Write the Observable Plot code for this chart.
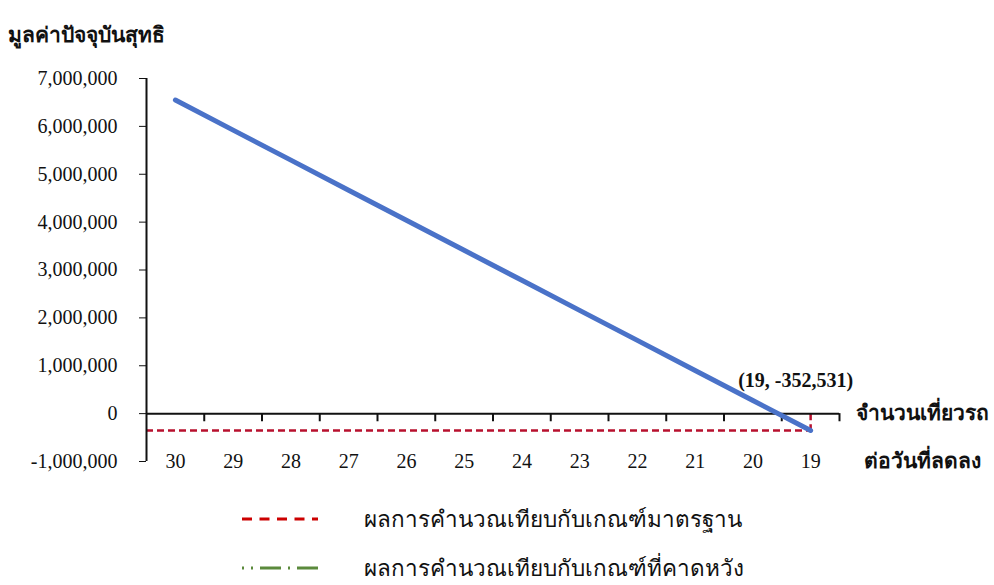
<!DOCTYPE html>
<html>
<head>
<meta charset="utf-8">
<script src="https://cdn.jsdelivr.net/npm/d3@7"></script>
<script src="https://cdn.jsdelivr.net/npm/@observablehq/plot@0.6"></script>
<style>
  body { margin: 0; background: #fff; font-family: "Liberation Serif", serif; }
  #title { height: 50px; box-sizing: border-box; padding: 24px 0 0 8px; font-size: 21px; line-height: 22px; font-weight: bold; color: #111; }
  #legend { padding-top: 13px; }
  .row { display: flex; align-items: center; height: 49px; }
  .row svg { margin-left: 242px; }
  .row span { margin-left: 46px; font-size: 22.5px; color: #111; }
</style>
</head>
<body>
<div id="title"></div>
<div id="chart"></div>
<div id="legend"></div>
<script>
// Data
const categories = [30, 29, 28, 27, 26, 25, 24, 23, 22, 21, 20, 19];
const npvValues = [6550000, 5922000, 5295000, 4667000, 4040000, 3412000, 2785000, 2157000, 1530000, 902000, 275000, -352531];
const yTicks = [-1000000, 0, 1000000, 2000000, 3000000, 4000000, 5000000, 6000000, 7000000];
const titleText = "มูลค่าปัจจุบันสุทธิ";
const xAxisLabel = ["จำนวนเที่ยวรถ", "ต่อวันที่ลดลง"];
const annotation = "(19, -352,531)";
const legendLabels = ["ผลการคำนวณเทียบกับเกณฑ์มาตรฐาน", "ผลการคำนวณเทียบกับเกณฑ์ที่คาดหวัง"];

document.getElementById("title").textContent = titleText;

const data = categories.map((c, i) => ({x: c, y: npvValues[i]}));
const last = data[data.length - 1];
const xLeft = d3.max(categories) + 0.5;
const xRight = d3.min(categories) - 0.5;
const boundaries = categories.map(c => c - 0.5);
const tickLen = 170000;
const labelRows = [0, d3.min(yTicks)];

const chart = Plot.plot({
  width: 994,
  height: 431,
  marginLeft: 146,
  marginRight: 155,
  marginTop: 28,
  marginBottom: 20,
  style: {fontFamily: "Liberation Serif", fontSize: "20px", color: "#111", background: "#fff"},
  x: {type: "linear", domain: [xLeft, xRight], axis: null},
  y: {domain: [d3.min(yTicks), d3.max(yTicks)], ticks: yTicks, tickSize: 7, tickPadding: 22,
      tickFormat: d => d.toLocaleString("en-US"), label: null},
  marks: [
    // red standard-criterion lines
    Plot.ruleY([last], {y: "y", x1: xLeft, x2: "x", stroke: "#b8102e", strokeWidth: 2.5, strokeDasharray: "7,4"}),
    Plot.ruleX([last], {x: "x", y1: 0, y2: "y", stroke: "#b8102e", strokeWidth: 2.5, strokeDasharray: "7,4"}),
    // axes
    Plot.ruleY([0], {stroke: "#111", strokeWidth: 2}),
    Plot.ruleX([xLeft], {stroke: "#111", strokeWidth: 2}),
    Plot.ruleX(boundaries, {x: d => d, y1: 0, y2: -tickLen, stroke: "#111", strokeWidth: 2}),
    Plot.text(categories, {x: d => d, frameAnchor: "bottom", lineAnchor: "middle", text: d => String(d), fontSize: 20}),
    // NPV line
    Plot.line(data, {x: "x", y: "y", stroke: "#4a72c8", strokeWidth: 5}),
    Plot.text([last], {x: "x", y: "y", text: () => annotation, dx: -15, dy: -50, fontWeight: "bold", fontSize: 20}),
    // x-axis label on the right (two rows)
    Plot.text(xAxisLabel, {frameAnchor: "right", y: (d, i) => labelRows[i], dx: 83, lineAnchor: "middle",
      textAnchor: "middle", fontWeight: "bold", fontSize: 21, text: d => d})
  ]
});
document.getElementById("chart").appendChild(chart);

// Legend
const legend = document.getElementById("legend");
const styles = [
  {stroke: "#cc0000", dash: "10,7.5", offset: 0},
  {stroke: "#5b8a3c", dash: "21,7,2,7", offset: 19}
];
legendLabels.forEach((label, i) => {
  const row = document.createElement("div");
  row.className = "row";
  row.innerHTML = `<svg width="76" height="10"><line x1="0" y1="5" x2="76" y2="5" stroke="${styles[i].stroke}" stroke-width="3" stroke-dasharray="${styles[i].dash}" stroke-dashoffset="${styles[i].offset}"/></svg><span></span>`;
  row.querySelector("span").textContent = label;
  legend.appendChild(row);
});
</script>
</body>
</html>
